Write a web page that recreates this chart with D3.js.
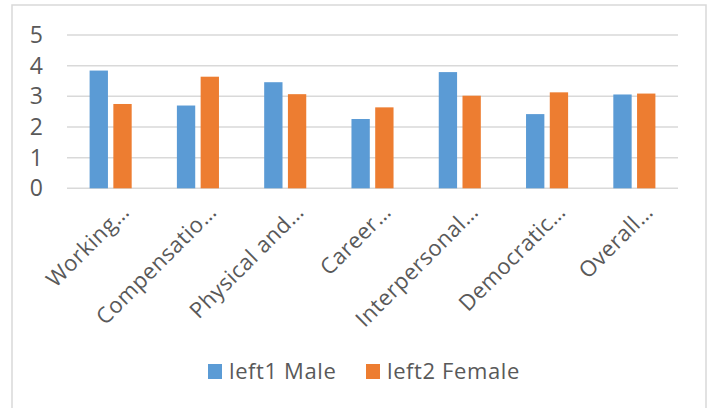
<!DOCTYPE html>
<html>
<head>
<meta charset="utf-8">
<script src="https://cdn.jsdelivr.net/npm/d3@7"></script>
<style>
  body { margin: 0; background: #fff; }
  svg { display: block; font-family: "Open Sans", "Noto Sans", sans-serif; }
</style>
</head>
<body>
<svg id="chart"></svg>
<script>
const categories = ['Working…', 'Compensatio…', 'Physical and…', 'Career…', 'Interpersonal…', 'Democratic…', 'Overall…'];
const seriesNames = ['left1 Male', 'left2 Female'];
const maleValues = [3.84, 2.70, 3.46, 2.26, 3.79, 2.42, 3.06];
const femaleValues = [2.75, 3.64, 3.07, 2.64, 3.02, 3.13, 3.09];
const yTicks = [0, 1, 2, 3, 4, 5];
const colors = ['#5B9BD5', '#ED7D31'];

const W = 711, H = 408;
const svg = d3.select('#chart').attr('width', W).attr('height', H);

// chart border
svg.append('rect')
    .attr('x', 12).attr('y', 5)
    .attr('width', 694).attr('height', 420)
    .attr('fill', 'none')
    .attr('stroke', '#D9D9D9')
    .attr('stroke-width', 1.5);

const plotLeft = 67, plotRight = 678, plotTop = 35, plotBottom = 188.3;

const x = d3.scaleBand().domain(categories).range([plotLeft, plotRight]);
const y = d3.scaleLinear().domain([0, 5]).range([plotBottom, plotTop]);

// gridlines
svg.append('g')
    .selectAll('line')
    .data(yTicks)
    .join('line')
    .attr('x1', plotLeft).attr('x2', plotRight)
    .attr('y1', d => y(d)).attr('y2', d => y(d))
    .attr('stroke', '#D9D9D9')
    .attr('stroke-width', 1.5);

// y axis labels
const yAxis = d3.axisLeft(y).tickValues(yTicks).tickFormat(d3.format('d')).tickSize(0).tickPadding(0);
svg.append('g')
    .attr('transform', `translate(${plotLeft - 24},0)`)
    .call(yAxis)
    .call(g => g.select('.domain').remove())
    .selectAll('text')
    .attr('fill', '#595959')
    .attr('font-size', 23)
    .attr('font-family', '"Open Sans", sans-serif');

// bars
const bw = x.bandwidth() * 0.21;
const gap = x.bandwidth() * 0.062;
const rows = categories.map((c, i) => ({ c, vals: [maleValues[i], femaleValues[i]] }));

const groups = svg.append('g').selectAll('g')
    .data(rows)
    .join('g')
    .attr('transform', d => `translate(${x(d.c) + x.bandwidth() / 2},0)`);

groups.selectAll('rect')
    .data(d => d.vals)
    .join('rect')
    .attr('x', (v, i) => i === 0 ? -bw - gap / 2 : gap / 2)
    .attr('y', v => y(v))
    .attr('width', bw)
    .attr('height', v => y(0) - y(v))
    .attr('fill', (v, i) => colors[i]);

// x axis labels
const xAxis = d3.axisBottom(x).tickSize(0).tickPadding(0);
svg.append('g')
    .attr('transform', `translate(0,${plotBottom})`)
    .call(xAxis)
    .call(g => g.select('.domain').remove())
    .selectAll('text')
    .attr('fill', '#595959')
    .attr('font-size', 22)
    .attr('letter-spacing', 0.5)
    .attr('font-family', '"Open Sans", sans-serif')
    .attr('text-anchor', 'end')
    .attr('dy', 0)
    .attr('y', 0)
    .attr('transform', 'translate(20,25) rotate(-45)');

// legend
const legend = svg.append('g');
const legendX = [208, 366];
seriesNames.forEach((name, i) => {
    legend.append('rect')
        .attr('x', legendX[i]).attr('y', 364)
        .attr('width', 14).attr('height', 15)
        .attr('fill', colors[i]);
    legend.append('text')
        .attr('x', legendX[i] + 21).attr('y', 379)
        .attr('fill', '#595959')
        .attr('font-size', 22)
        .attr('letter-spacing', 0.6)
        .text(name);
});
</script>
</body>
</html>
